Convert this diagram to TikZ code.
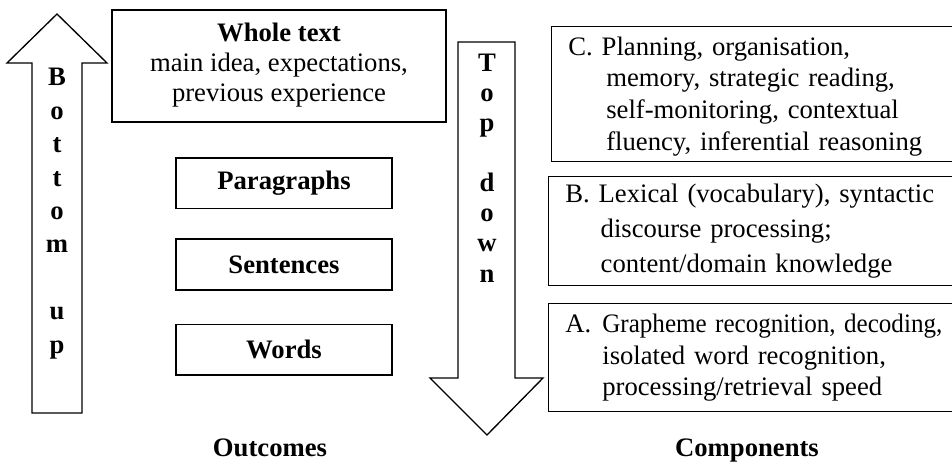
\documentclass[tikz,border=0pt]{standalone}
\usepackage{fontspec}
\setmainfont{Liberation Serif}
\usetikzlibrary{positioning}

\tikzset{
  arrowshape/.style={draw, line width=1pt},
  letter/.style={anchor=base, inner sep=0pt, font=\fontsize{20}{24}\selectfont\bfseries},
  outbox/.style={draw, line width=1pt, minimum width=162pt, minimum height=38pt, inner sep=0pt, font=\fontsize{20}{24}\selectfont\bfseries},
  compbox/.style={draw, line width=1pt, anchor=north west, align=left, text width=330pt, inner xsep=12.5pt, inner ysep=0pt, font=\fontsize{20}{23.75}\selectfont},
  caption/.style={anchor=base, inner sep=0pt, font=\fontsize{20}{24}\selectfont\bfseries}
}

\begin{document}
\begin{tikzpicture}[x=0.75pt,y=0.75pt,yscale=-1,xscale=1]
\useasboundingbox (0,0) rectangle (952,463);
\clip (0,0) rectangle (952,463);

%Shape: Up Arrow
\draw[arrowshape] (57,14) -- (107,63) -- (82,63) -- (82,413) -- (32,413) -- (32,63) -- (7,63) -- cycle ;
\foreach \ch/\k in {B/0,o/1,t/2,t/3,o/4,m/5,u/7,p/8}
  \node[letter] (up\k) at (57,86+33.4*\k) {\ch};

%Shape: Down Arrow
\draw[arrowshape] (458,42) -- (515,42) -- (515,378) -- (543,378) -- (487,435) -- (430,378) -- (458,378) -- cycle ;
\foreach \ch/\k in {T/0,o/1,p/2,d/4,o/5,w/6,n/7}
  \node[letter] (down\k) at (487,72+30*\k) {\ch};

% Outcomes
\node[draw, line width=1pt, minimum width=250.5pt, minimum height=84pt, inner sep=0pt, align=center,
  font=\fontsize{20}{22.5}\selectfont] (whole) at (279,66)
  {\textbf{Whole text}\\main idea, expectations,\\previous experience\rule[-6pt]{0pt}{0pt}};
\node[outbox] (para) at (284,183.5) {Paragraphs};
\node[outbox] (sent) at (284,264.5) {Sentences};
\node[outbox] (words) at (284,349.5) {Words};
\node[caption] (outc) at (270,456) {Outcomes};

% Components
\node[compbox, minimum height=101.25pt] (compC) at (551,26)
  {\rule{0pt}{17pt}C. Planning, organisation,\\
   \hspace*{28.5pt}memory, strategic reading,\\
   \hspace*{28.5pt}self-monitoring, contextual\\
   \hspace*{28.5pt}fluency, inferential reasoning};
\node[compbox, minimum height=81.75pt, font=\fontsize{20}{26}\selectfont] (compB) at (548,176)
  {B. Lexical (vocabulary), syntactic\\
   \hspace*{26.5pt}discourse processing;\\
   \hspace*{26.5pt}content/domain knowledge};
\node[compbox, minimum height=81pt] (compA) at (548,303)
  {\makebox[27.75pt][l]{A.}\resizebox{255pt}{\height}{Grapheme recognition, decoding,}\\
   \hspace*{27.75pt}isolated word recognition,\\
   \hspace*{27.75pt}processing/retrieval speed};
\node[caption] (compt) at (747,456) {Components};
\end{tikzpicture}
\end{document}
